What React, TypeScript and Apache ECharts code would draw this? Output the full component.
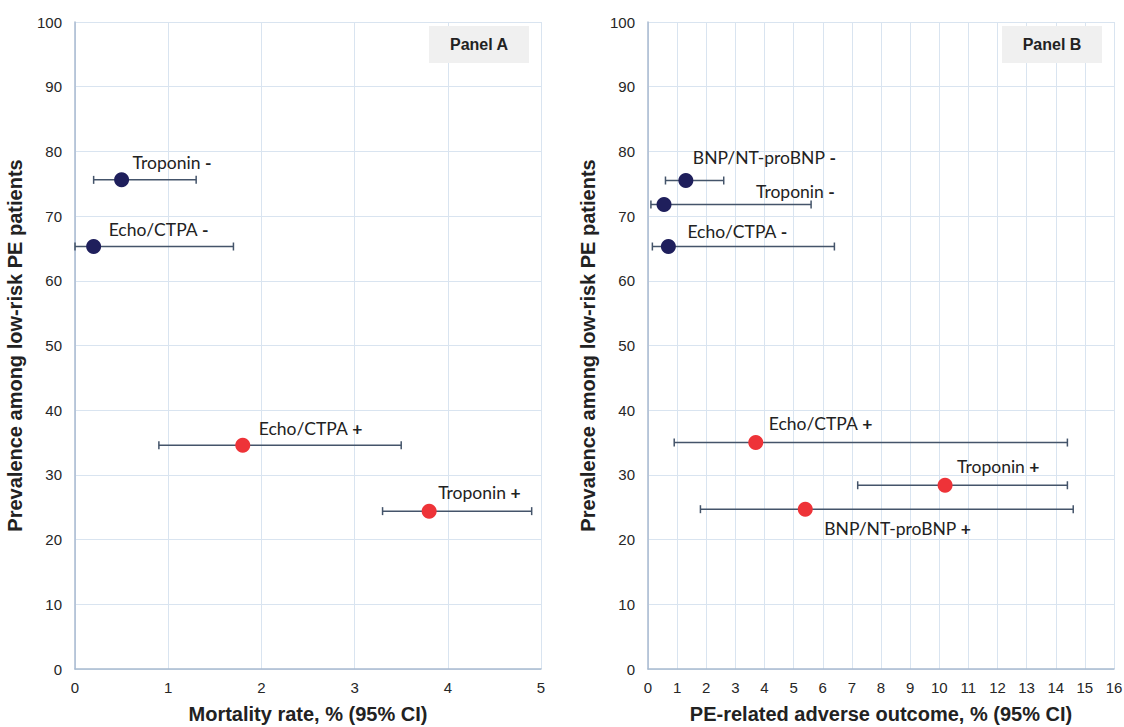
import React, { useEffect, useRef } from "react";
import * as echarts from "echarts";

// Panel A: mortality rate
const aNames = ["Troponin", "Echo/CTPA", "Echo/CTPA", "Troponin"];
const aSigns = ["-", "-", "+", "+"];
const aRate = [0.5, 0.2, 1.8, 3.8];
const aLow = [0.2, 0.0, 0.9, 3.3];
const aHigh = [1.3, 1.7, 3.5, 4.9];
const aPrev = [75.6, 65.3, 34.6, 24.4];

// Panel B: PE-related adverse outcome
const bNames = ["BNP/NT-proBNP", "Troponin", "Echo/CTPA", "Echo/CTPA", "Troponin", "BNP/NT-proBNP"];
const bSigns = ["-", "-", "-", "+", "+", "+"];
const bRate = [1.3, 0.55, 0.7, 3.7, 10.2, 5.4];
const bLow = [0.6, 0.1, 0.15, 0.9, 7.2, 1.8];
const bHigh = [2.6, 5.6, 6.4, 14.4, 14.4, 14.6];
const bPrev = [75.5, 71.8, 65.3, 35.0, 28.4, 24.7];

const yTicks = { min: 0, max: 100, interval: 10 };

// label offsets (style only), relative to marker centre
const aLabelOff = [[11, -17], [15, -17], [16, -17], [9, -19]];
const bLabelOff = [[7, -23], [92, -13], [19, -15], [13, -19], [12, -19], [19, 19]];

const NAVY = "#1f1f5c";
const RED = "#ee3338";
const BAR = "#44546a";
const GRID = "#d9e4f0";
const AXIS = "#a8bad0";
const SYM = 15;

export default function App() {
  const ref = useRef<HTMLDivElement>(null);
  useEffect(() => {
    if (!ref.current) return;
    const chart = echarts.init(ref.current, undefined, { renderer: "svg" });

    const pts = (names: string[], signs: string[], xs: number[], ys: number[], offs: number[][]) =>
      xs.map((x, i) => ({
        value: [x, ys[i]],
        itemStyle: { color: signs[i] === "+" ? RED : NAVY, opacity: 1 },
        label: {
          show: true,
          position: [offs[i][0] + SYM / 2, offs[i][1] + SYM / 2],
          align: "left",
          verticalAlign: "middle",
          formatter: `{n|${names[i]} }{s|${signs[i]}}`,
          rich: {
            n: { fontFamily: "Lato", fontSize: 17.5, color: "#222" },
            s: { fontFamily: "Lato", fontSize: 17.5, fontWeight: "bold", color: "#222" },
          },
        },
      }));

    const bars = (lo: number[], hi: number[], ys: number[]) => lo.map((l, i) => [l, hi[i], ys[i]]);

    const renderBar = (params: any, api: any) => {
      const p1 = api.coord([api.value(0), api.value(2)]);
      const p2 = api.coord([api.value(1), api.value(2)]);
      const st = { stroke: BAR, lineWidth: 1.5 };
      const h = 4;
      return {
        type: "group",
        children: [
          { type: "line", shape: { x1: p1[0], y1: p1[1], x2: p2[0], y2: p2[1] }, style: st },
          { type: "line", shape: { x1: p1[0], y1: p1[1] - h, x2: p1[0], y2: p1[1] + h }, style: st },
          { type: "line", shape: { x1: p2[0], y1: p2[1] - h, x2: p2[0], y2: p2[1] + h }, style: st },
        ],
      };
    };

    const axisLabel = { fontFamily: "Liberation Sans", fontSize: 15, color: "#262626" };
    const nameStyle = { fontFamily: "Liberation Sans", fontSize: 20, fontWeight: "bold", color: "#222" };

    const xAxisBase = (max: number, name: string, gi: number) => ({
      type: "value",
      gridIndex: gi,
      min: 0,
      max,
      interval: 1,
      name,
      nameLocation: "middle",
      nameGap: 35,
      nameTextStyle: nameStyle,
      axisLine: { show: true, lineStyle: { color: AXIS, width: 1.5 } },
      axisTick: { show: false },
      axisLabel: { ...axisLabel, margin: 11 },
      splitLine: { show: true, lineStyle: { color: GRID, width: 1 } },
    });
    const yAxisBase = (gi: number) => ({
      type: "value",
      gridIndex: gi,
      ...yTicks,
      name: "Prevalence among low-risk PE patients",
      nameLocation: "middle",
      nameRotate: 90,
      nameGap: 50,
      nameTextStyle: nameStyle,
      axisLine: { show: true, lineStyle: { color: AXIS, width: 1.5 } },
      axisTick: { show: false },
      axisLabel: { ...axisLabel, margin: 13 },
      splitLine: { show: true, lineStyle: { color: GRID, width: 1 } },
    });

    const panelLabel = (x: number, y: number, text: string) => ({
      type: "group",
      x,
      y,
      z: 100,
      children: [
        { type: "rect", z: 100, shape: { x: 0, y: 0, width: 100, height: 37 }, style: { fill: "#f0f0f0" } },
        {
          type: "text",
          z: 101,
          x: 50,
          y: 18.5,
          style: {
            text,
            fontFamily: "Liberation Sans",
            fontSize: 16,
            fontWeight: "bold",
            fill: "#222",
            align: "center",
            verticalAlign: "middle",
          },
        },
      ],
    });

    chart.setOption({
      animation: false,
      backgroundColor: "#fff",
      grid: [
        { left: 75, top: 22, width: 466, height: 647, outerBoundsMode: "none", containLabel: false },
        { left: 648, top: 22, width: 466, height: 647, outerBoundsMode: "none", containLabel: false },
      ],
      xAxis: [
        xAxisBase(5, "Mortality rate, % (95% CI)", 0),
        xAxisBase(16, "PE-related adverse outcome, % (95% CI)", 1),
      ],
      yAxis: [yAxisBase(0), yAxisBase(1)],
      graphic: [panelLabel(429, 26, "Panel A"), panelLabel(1002, 26, "Panel B")],
      series: [
        {
          type: "custom",
          xAxisIndex: 0,
          yAxisIndex: 0,
          renderItem: renderBar,
          data: bars(aLow, aHigh, aPrev),
          encode: { x: [0, 1], y: 2 },
          z: 2,
          clip: false,
        },
        {
          type: "custom",
          xAxisIndex: 1,
          yAxisIndex: 1,
          renderItem: renderBar,
          data: bars(bLow, bHigh, bPrev),
          encode: { x: [0, 1], y: 2 },
          z: 2,
          clip: false,
        },
        {
          type: "scatter",
          xAxisIndex: 0,
          yAxisIndex: 0,
          symbol: "circle",
          symbolSize: SYM,
          data: pts(aNames, aSigns, aRate, aPrev, aLabelOff),
          z: 3,
        },
        {
          type: "scatter",
          xAxisIndex: 1,
          yAxisIndex: 1,
          symbol: "circle",
          symbolSize: SYM,
          data: pts(bNames, bSigns, bRate, bPrev, bLabelOff),
          z: 3,
        },
      ],
    });
    return () => chart.dispose();
  }, []);

  return (
    <div
      ref={ref}
      style={{ position: "fixed", left: 0, top: 0, width: 1124, height: 727, background: "#fff" }}
    />
  );
}
